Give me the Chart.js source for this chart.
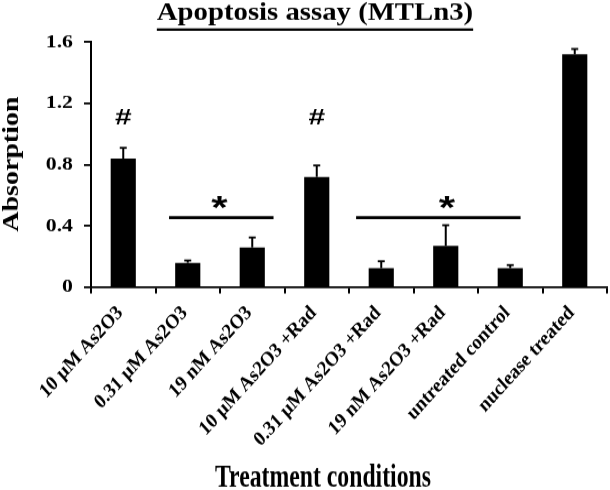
<!DOCTYPE html>
<html>
<head>
<meta charset="utf-8">
<script src="https://cdn.jsdelivr.net/npm/chart.js@4.4.1/dist/chart.umd.min.js"></script>
<style>
  html, body { margin: 0; padding: 0; background: #fff; }
  /* the source figure is a little stretched vertically: draw short, scale up */
  #chart { display: block; width: 610px; height: 490px; }
</style>
</head>
<body>
<canvas id="chart" width="610" height="445" style="width:610px;height:490px"></canvas>
<script>
  const categories = ['10 µM As2O3', '0.31 µM As2O3', '19 nM As2O3', '10 µM As2O3 +Rad',
    '0.31 µM As2O3 +Rad', '19 nM As2O3 +Rad', 'untreated control', 'nuclease treated'];
  const means = [0.84, 0.16, 0.26, 0.72, 0.125, 0.27, 0.125, 1.52];
  const errors = [0.07, 0.015, 0.065, 0.075, 0.045, 0.135, 0.02, 0.035];
  const yTicks = [0, 0.4, 0.8, 1.2, 1.6];

  // '#' marks above single bars
  const hashIdx = [0, 3];
  const hashLevel = [1.10, 1.10];
  // '*' brackets across groups (positions in category index units)
  const starFrom = [0.71, 3.61];
  const starTo = [2.33, 6.16];
  const starLine = [0.455, 0.455];
  const starAt = [1.49, 5.02];
  const starLevel = [0.557, 0.557];

  const SERIF = "'Liberation Serif', 'Times New Roman', serif";
  const SANS = "'Liberation Sans', Arial, sans-serif";

  // text with its own horizontal scale (the figure's fonts are not uniformly proportioned)
  function drawText(ctx, text, x, y, font, kx, align, baseline) {
    ctx.save();
    ctx.translate(x, y);
    ctx.scale(kx, 1);
    ctx.font = font;
    ctx.textAlign = align || 'center';
    ctx.textBaseline = baseline || 'alphabetic';
    ctx.fillText(text, 0, 0);
    const w = ctx.measureText(text).width * kx;
    ctx.restore();
    return w;
  }

  const extras = {
    id: 'extras',
    afterDatasetsDraw(chart) {
      const ctx = chart.ctx;
      const x = chart.scales.x, y = chart.scales.y;
      ctx.save();
      ctx.strokeStyle = '#000';
      ctx.fillStyle = '#000';

      // error bars, upper whisker only
      means.forEach((m, i) => {
        const px = x.getPixelForValue(i);
        const y0 = y.getPixelForValue(m);
        const y1 = y.getPixelForValue(m + errors[i]);
        ctx.lineWidth = 2;
        ctx.beginPath();
        ctx.moveTo(px, y0);
        ctx.lineTo(px, y1);
        ctx.stroke();
        ctx.lineWidth = 1.8;
        ctx.beginPath();
        ctx.moveTo(px - 3.5, y1);
        ctx.lineTo(px + 3.5, y1);
        ctx.stroke();
      });

      // significance lines
      ctx.lineWidth = 2.7;
      starFrom.forEach((f, i) => {
        const ly = y.getPixelForValue(starLine[i]);
        ctx.beginPath();
        ctx.moveTo(x.getPixelForValue(f), ly);
        ctx.lineTo(x.getPixelForValue(starTo[i]), ly);
        ctx.stroke();
      });

      starAt.forEach((s, i) => {
        drawText(ctx, '*', x.getPixelForValue(s), y.getPixelForValue(starLevel[i]) + 7,
          'bold 29px ' + SANS, 1.45, 'center', 'middle');
      });
      hashIdx.forEach((h, i) => {
        drawText(ctx, '#', x.getPixelForValue(h), y.getPixelForValue(hashLevel[i]),
          'bold 20px ' + SANS, 1.5, 'center', 'middle');
      });

      // y tick labels
      yTicks.forEach(v => {
        drawText(ctx, String(v), 73, y.getPixelForValue(v), 'bold 17px ' + SERIF, 1.28, 'right', 'middle');
      });
      ctx.restore();
    },
    afterDraw(chart) {
      const ctx = chart.ctx;
      ctx.save();
      ctx.fillStyle = '#000';
      ctx.strokeStyle = '#000';

      // underlined title
      const w = drawText(ctx, 'Apoptosis assay (MTLn3)', 315, 17.5, 'bold 23px ' + SERIF, 1.25);
      ctx.lineWidth = 2.2;
      ctx.beginPath();
      ctx.moveTo(315 - w / 2, 26.8);
      ctx.lineTo(315 + w / 2, 26.8);
      ctx.stroke();

      // axis titles
      drawText(ctx, 'Treatment conditions', 323, 442, 'bold 29.3px ' + SERIF, 0.81);

      ctx.translate(18, 149);
      ctx.rotate(-Math.PI / 2);
      drawText(ctx, 'Absorption', 0, 0, 'bold 22.7px ' + SERIF, 1.12);
      ctx.restore();
    }
  };

  new Chart(document.getElementById('chart'), {
    type: 'bar',
    data: {
      labels: categories,
      datasets: [{
        data: means,
        backgroundColor: '#000',
        borderWidth: 0,
        barPercentage: 0.39,
        categoryPercentage: 1
      }]
    },
    options: {
      responsive: false,
      animation: false,
      layout: { padding: { top: 38.2, right: 3, left: 0, bottom: 0 } },
      plugins: { legend: { display: false }, tooltip: { enabled: false } },
      scales: {
        x: {
          offset: true,
          grid: { offset: true, drawOnChartArea: false, drawTicks: true, tickLength: 5.5, color: '#000', lineWidth: 2 },
          border: { display: true, color: '#000', width: 1.8 },
          ticks: {
            color: '#000', maxRotation: 45, minRotation: 45, padding: 7, labelOffset: -3,
            font: { family: SERIF, size: 18.5, weight: 'bold' }
          },
          afterFit(scale) { scale.height = 184.1; }
        },
        y: {
          min: 0, max: 1.6,
          afterBuildTicks(scale) { scale.ticks = yTicks.map(v => ({ value: v })); },
          grid: { drawOnChartArea: false, drawTicks: true, tickLength: 7, color: '#000', lineWidth: 1.8 },
          border: { display: true, color: '#000', width: 2 },
          ticks: { display: false },
          afterFit(scale) { scale.width = 91; }
        }
      }
    },
    plugins: [extras]
  });
</script>
</body>
</html>
